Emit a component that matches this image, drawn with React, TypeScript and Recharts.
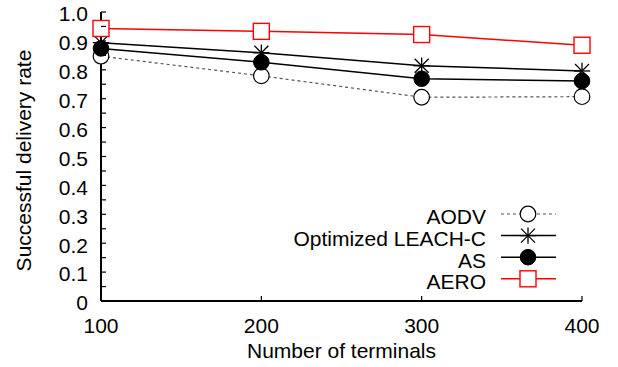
import React from 'react';
import { LineChart, Line, XAxis, YAxis } from 'recharts';

const terminals = [100, 200, 300, 400];
const aodv = [0.847, 0.779, 0.705, 0.707];
const leach = [0.894, 0.859, 0.814, 0.796];
const as = [0.874, 0.826, 0.769, 0.761];
const aero = [0.943, 0.933, 0.922, 0.885];

const seriesNames = ['AODV', 'Optimized LEACH-C', 'AS', 'AERO'];
const xTicks = [100, 200, 300, 400];
const yTicks = [0, 0.05, 0.1, 0.15, 0.2, 0.25, 0.3, 0.35, 0.4, 0.45, 0.5, 0.55, 0.6, 0.65, 0.7, 0.75, 0.8, 0.85, 0.9, 0.95, 1.0];

const data = terminals.map((t, i) => ({ t, aodv: aodv[i], leach: leach[i], as: as[i], aero: aero[i] }));

const FONT = '"Liberation Sans", Arial, Helvetica, sans-serif';
const FS = 21;
const RED = '#ff0000';

function Txt({ x, y, text, anchor, rotate }: any) {
  const tr = rotate ? `translate(${x},${y}) rotate(-90)` : `translate(${x},${y})`;
  return (
    <text transform={tr} x={0} y={0} dy="0.35em" textAnchor={anchor} fontSize={FS} fontFamily={FONT} fill="#000">
      {text}
    </text>
  );
}

function OpenCircle({ cx, cy }: any) {
  return <circle cx={cx} cy={cy} r={7.8} fill="#fff" stroke="#000" strokeWidth={1.2} />;
}
function FilledCircle({ cx, cy }: any) {
  return <circle cx={cx} cy={cy} r={7.8} fill="#000" stroke="#000" strokeWidth={1} />;
}
function Star({ cx, cy }: any) {
  const a = 8.2;
  const d = 7;
  return (
    <g stroke="#000" strokeWidth={1.3}>
      <line x1={cx} y1={cy - a} x2={cx} y2={cy + a} />
      <line x1={cx - a} y1={cy} x2={cx + a} y2={cy} />
      <line x1={cx - d} y1={cy - d} x2={cx + d} y2={cy + d} />
      <line x1={cx - d} y1={cy + d} x2={cx + d} y2={cy - d} />
    </g>
  );
}
function Square({ cx, cy }: any) {
  return <rect x={cx - 8} y={cy - 8} width={16} height={16} fill="#fff" stroke={RED} strokeWidth={1.4} />;
}

const markers = [OpenCircle, Star, FilledCircle, Square];
const lineStyles = [
  { stroke: '#555', dash: '3 3', width: 1.2 },
  { stroke: '#000', dash: undefined, width: 1.5 },
  { stroke: '#000', dash: undefined, width: 1.5 },
  { stroke: RED, dash: undefined, width: 1.5 },
];
const keys = ['aodv', 'leach', 'as', 'aero'];

const isMajor = (v: number) => Math.abs(v * 10 - Math.round(v * 10)) < 1e-6;
const fmtY = (v: number) => (v === 0 ? '0' : v.toFixed(1));

function LeftYTick(p: any) {
  const { x, y, payload } = p;
  const v = payload.value;
  return (
    <g>
      <line x1={x} x2={x + 5} y1={y} y2={y} stroke="#000" strokeWidth={1.2} />
      {isMajor(v) && <Txt x={x - 13} y={y + 2} text={fmtY(v)} anchor="end" />}
    </g>
  );
}
function RightYTick(p: any) {
  const { x, y } = p;
  return <line x1={x} x2={x - 5} y1={y} y2={y} stroke="#000" strokeWidth={1.2} />;
}
function BottomXTick(p: any) {
  const { x, y, payload } = p;
  return (
    <g>
      <line x1={x} x2={x} y1={y} y2={y - 5} stroke="#000" strokeWidth={1.2} />
      <Txt x={x} y={y + 25} text={String(payload.value)} anchor="middle" />
    </g>
  );
}
function TopXTick(p: any) {
  const { x, y } = p;
  return <line x1={x} x2={x} y1={y} y2={y + 5} stroke="#000" strokeWidth={1.2} />;
}

export default function App() {
  const legendTop = 214;
  const legendStep = 21.6;
  return (
    <div style={{ position: 'absolute', left: 0, top: 0, width: 618, height: 367, background: '#fff' }}>
      <LineChart width={618} height={367} data={data} margin={{ top: 12, right: 36, left: 0, bottom: 0 }}>
        <XAxis
          xAxisId={0}
          dataKey="t"
          type="number"
          domain={[100, 400]}
          ticks={xTicks}
          interval={0}
          height={66}
          tickSize={0}
          tickMargin={0}
          tickLine={false}
          axisLine={{ stroke: '#000', strokeWidth: 2 }}
          tick={BottomXTick}
          label={{
            content: (lp: any) => {
              const vb = lp.viewBox;
              return <Txt x={vb.x + vb.width / 2} y={vb.y + 49.5} text="Number of terminals" anchor="middle" />;
            },
          }}
        />
        <XAxis
          xAxisId="top"
          orientation="top"
          dataKey="t"
          type="number"
          domain={[100, 400]}
          ticks={xTicks}
          interval={0}
          height={0}
          tickSize={0}
          tickMargin={0}
          tickLine={false}
          axisLine={{ stroke: '#000', strokeWidth: 1.5 }}
          tick={TopXTick}
        />
        <YAxis
          yAxisId={0}
          type="number"
          domain={[0, 1]}
          ticks={yTicks}
          interval={0}
          width={101}
          tickSize={0}
          tickMargin={0}
          tickLine={false}
          axisLine={{ stroke: '#000', strokeWidth: 2 }}
          tick={LeftYTick}
          label={{
            content: (lp: any) => {
              const vb = lp.viewBox;
              return <Txt x={24} y={vb.y + vb.height / 2 + 4} text="Successful delivery rate" anchor="middle" rotate />;
            },
          }}
        />
        <YAxis
          yAxisId="right"
          orientation="right"
          type="number"
          domain={[0, 1]}
          ticks={yTicks}
          interval={0}
          width={0}
          tickSize={0}
          tickMargin={0}
          tickLine={false}
          axisLine={{ stroke: '#000', strokeWidth: 1.5 }}
          tick={RightYTick}
        />
        {keys.map((k, i) => {
          const M = markers[i];
          const st = lineStyles[i];
          return (
            <Line
              key={k}
              xAxisId={0}
              yAxisId={0}
              type="linear"
              dataKey={k}
              stroke={st.stroke}
              strokeWidth={st.width}
              strokeDasharray={st.dash}
              isAnimationActive={false}
              dot={(dp: any) => <M key={`${k}-${dp.index}`} cx={dp.cx} cy={dp.cy} />}
              activeDot={false}
            />
          );
        })}
      </LineChart>
      <svg width={618} height={367} style={{ position: 'absolute', left: 0, top: 0, pointerEvents: 'none' }}>
        {seriesNames.map((name, i) => {
          const y = legendTop + i * legendStep;
          const M = markers[i];
          const st = lineStyles[i];
          return (
            <g key={name}>
              <Txt x={486} y={y + 3} text={name} anchor="end" />
              <line x1={501} x2={556} y1={y} y2={y} stroke={st.stroke} strokeWidth={st.width} strokeDasharray={st.dash} />
              <M cx={528} cy={y} />
            </g>
          );
        })}
      </svg>
    </div>
  );
}
